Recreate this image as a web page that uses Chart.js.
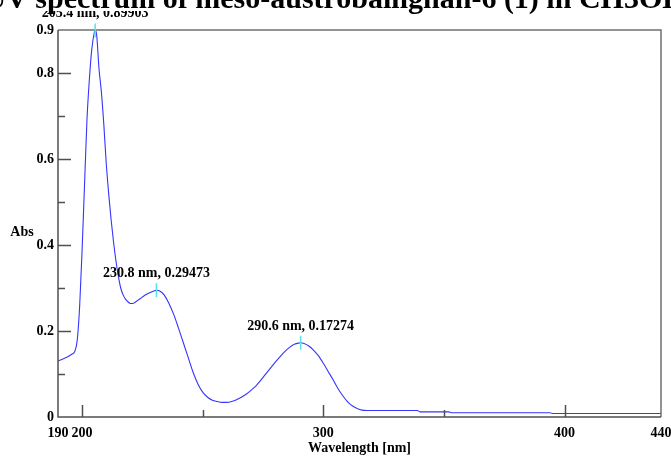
<!DOCTYPE html>
<html>
<head>
<meta charset="utf-8">
<script src="https://cdn.jsdelivr.net/npm/chart.js@4/dist/chart.umd.min.js"></script>
<style>
  html, body { margin: 0; padding: 0; background: #fff; }
  #wrap { width: 671px; height: 456px; position: relative; }
</style>
</head>
<body>
<div id="wrap"><canvas id="c" width="671" height="456"></canvas></div>
<script>
// UV absorbance spectrum, wavelength in nm
const wavelengths = [190, 192, 194, 196, 197, 198, 199, 200, 201, 202, 203, 204, 205, 205.4, 206, 207, 208, 209, 210,
  211, 212, 213, 214, 215, 216, 217, 218, 219, 220, 221, 222, 224, 226, 228, 230, 230.8, 232, 234, 236, 238, 240,
  242, 244, 246, 248, 250, 252, 254, 256, 258, 260, 262, 264, 266, 268, 270, 272, 274, 276, 278, 280, 282, 284,
  286, 288, 290, 290.6, 292, 294, 296, 298, 300, 302, 304, 306, 308, 310, 312, 314, 316, 318, 339, 340, 352, 353,
  394, 395, 440];
const absorbance = [0.130, 0.135, 0.140, 0.147, 0.153, 0.180, 0.260, 0.390, 0.540, 0.690, 0.785, 0.855, 0.893, 0.89903,
  0.890, 0.810, 0.755, 0.680, 0.590, 0.520, 0.460, 0.408, 0.364, 0.328, 0.300, 0.284, 0.274, 0.268, 0.264, 0.264,
  0.267, 0.275, 0.283, 0.289, 0.2935, 0.29473, 0.2935, 0.284, 0.264, 0.238, 0.206, 0.172, 0.138, 0.104, 0.077,
  0.058, 0.046, 0.039, 0.036, 0.034, 0.034, 0.036, 0.040, 0.046, 0.053, 0.062, 0.072, 0.085, 0.099, 0.113, 0.127,
  0.140, 0.152, 0.162, 0.169, 0.1722, 0.17274, 0.171, 0.165, 0.155, 0.142, 0.125, 0.106, 0.087, 0.067, 0.050,
  0.036, 0.026, 0.020, 0.016, 0.015, 0.015, 0.012, 0.012, 0.010, 0.010, 0.008, 0.008];

// Picked peaks
const peakWavelengths = [205.4, 230.8, 290.6];
const peakAbsorbance = [0.89903, 0.29473, 0.17274];

// Axis ticks
const xTickValues = [190, 200, 250, 300, 350, 400, 440];
const xTickLabels = ['190', '200', '300', '400', '440'];
const xMajorTicks = [200, 300, 400];
const xMinorTicks = [250, 350];
const yTickValues = [0, 0.1, 0.2, 0.3, 0.4, 0.5, 0.6, 0.7, 0.8, 0.9];
const yTickLabels = ['0', '0.2', '0.4', '0.6', '0.8', '0.9'];
const yMajorTicks = [0.2, 0.4, 0.6, 0.8];
const yMinorTicks = [0.1, 0.3, 0.5, 0.7];

const titleText = 'UV spectrum of meso-austrobailignan-6 (1) in CH3OH';
const xTitle = 'Wavelength [nm]';
const yTitle = 'Abs';

const SERIF = '"Liberation Serif", "Times New Roman", serif';
const tickFont = { family: SERIF, size: 14, weight: 'bold' };

const points = wavelengths.map((w, i) => ({ x: w, y: absorbance[i] }));

const fmt = (v) => String(+v.toFixed(6));

const decorPlugin = {
  id: 'decor',
  afterDatasetsDraw(chart) {
    const { ctx, chartArea: a, scales: { x, y } } = chart;
    ctx.save();
    // frame
    ctx.strokeStyle = '#707070';
    ctx.lineWidth = 1.5;
    ctx.beginPath();
    ctx.moveTo(a.left, a.top); ctx.lineTo(a.right, a.top); ctx.lineTo(a.right, a.bottom);
    ctx.stroke();
    ctx.strokeStyle = '#505050';
    ctx.beginPath();
    ctx.moveTo(a.left, a.top); ctx.lineTo(a.left, a.bottom); ctx.lineTo(a.right, a.bottom);
    ctx.stroke();

    // inward tick marks
    ctx.strokeStyle = '#505050';
    ctx.lineWidth = 1.5;
    ctx.beginPath();
    xMajorTicks.forEach(v => { const px = Math.round(x.getPixelForValue(v)) + 0.5; ctx.moveTo(px, a.bottom); ctx.lineTo(px, a.bottom - 12); });
    xMinorTicks.forEach(v => { const px = Math.round(x.getPixelForValue(v)) + 0.5; ctx.moveTo(px, a.bottom); ctx.lineTo(px, a.bottom - 7); });
    yMajorTicks.forEach(v => { const py = Math.round(y.getPixelForValue(v)) + 0.5; ctx.moveTo(a.left, py); ctx.lineTo(a.left + 13, py); });
    yMinorTicks.forEach(v => { const py = Math.round(y.getPixelForValue(v)) + 0.5; ctx.moveTo(a.left, py); ctx.lineTo(a.left + 7, py); });
    ctx.stroke();

    // peak markers and labels
    ctx.save();
    ctx.beginPath();
    ctx.rect(0, 11, chart.width, chart.height);
    ctx.clip();
    peakWavelengths.forEach((w, i) => {
      const px = x.getPixelForValue(w);
      const py = y.getPixelForValue(peakAbsorbance[i]);
      ctx.strokeStyle = '#55e3f0';
      ctx.lineWidth = 1.5;
      ctx.beginPath();
      ctx.moveTo(px, py - 7); ctx.lineTo(px, py + 7);
      ctx.stroke();
      ctx.fillStyle = '#000';
      ctx.font = 'bold 14px ' + SERIF;
      ctx.textAlign = 'center';
      ctx.textBaseline = 'alphabetic';
      ctx.fillText(w.toFixed(1) + ' nm, ' + peakAbsorbance[i].toFixed(5), px, py - 13);
    });
    ctx.restore();

    // axis titles
    ctx.fillStyle = '#000';
    ctx.font = 'bold 14px ' + SERIF;
    ctx.textAlign = 'center';
    ctx.textBaseline = 'alphabetic';
    ctx.fillText(xTitle, (a.left + a.right) / 2, 452);
    ctx.textBaseline = 'middle';
    ctx.fillText(yTitle, 22, 232);

    // title, running off the top edge
    ctx.font = 'bold 30px ' + SERIF;
    ctx.textBaseline = 'alphabetic';
    ctx.fillText(titleText, 335, 8);
    ctx.restore();
  }
};

new Chart(document.getElementById('c'), {
  type: 'line',
  data: {
    datasets: [{
      data: points,
      borderColor: '#3535ff',
      borderWidth: 1.1,
      pointRadius: 0,
      cubicInterpolationMode: 'monotone',
      fill: false
    }]
  },
  options: {
    responsive: false,
    animation: false,
    events: [],
    layout: { padding: { top: 30, right: 10, bottom: 0, left: 0 } },
    plugins: { legend: { display: false }, tooltip: { enabled: false }, title: { display: false } },
    scales: {
      x: {
        type: 'linear', min: 190, max: 440,
        afterBuildTicks: (s) => { s.ticks = xTickValues.map(v => ({ value: v })); },
        afterFit: (s) => { s.height = 39; s.paddingLeft = 0; s.paddingRight = 0; },
        grid: { display: false, drawTicks: false },
        border: { display: false },
        ticks: {
          autoSkip: false, maxRotation: 0, padding: 8,
          color: '#000', font: tickFont,
          callback: (v) => xTickLabels.includes(fmt(v)) ? fmt(v) : ''
        }
      },
      y: {
        type: 'linear', min: 0, max: 0.9,
        afterBuildTicks: (s) => { s.ticks = yTickValues.map(v => ({ value: v })); },
        afterFit: (s) => { s.width = 58; s.paddingTop = 0; s.paddingBottom = 0; },
        grid: { display: false, drawTicks: false },
        border: { display: false },
        ticks: {
          autoSkip: false, padding: 4,
          color: '#000', font: tickFont,
          callback: (v) => yTickLabels.includes(fmt(v)) ? fmt(v) : ''
        }
      }
    }
  },
  plugins: [decorPlugin]
});
</script>
</body>
</html>
